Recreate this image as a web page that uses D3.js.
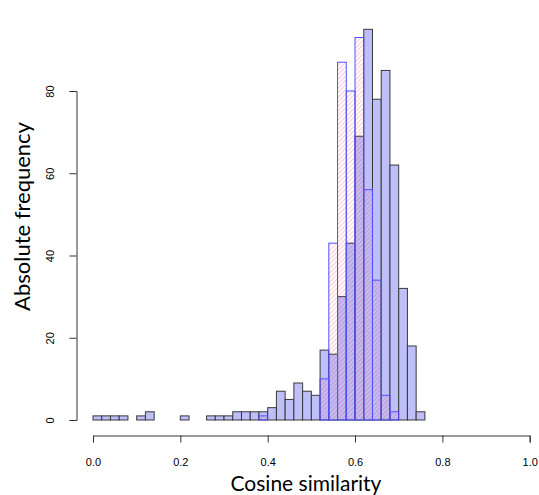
<!DOCTYPE html>
<html>
<head>
<meta charset="utf-8">
<script src="https://cdn.jsdelivr.net/npm/d3@7"></script>
<style>
  html, body { margin: 0; padding: 0; background: #fff; }
  svg { display: block; }
</style>
</head>
<body>
<svg id="chart" width="539" height="495"></svg>
<script>
// Histogram bins: width 0.02, left edges starting at 0
const binWidth = 0.02;
const allStart = 0.00;
const allCounts = [1, 1, 1, 1, 0, 1, 2, 0, 0, 0, 1, 0, 0, 1, 1, 1, 2, 2, 2, 2,
                   3, 7, 5, 9, 7, 6, 17, 16, 30, 43, 69, 95, 78, 85, 62, 32, 18, 2];
const subsetStart = 0.38;
const subsetCounts = [1, 0, 0, 0, 0, 0, 0, 10, 43, 87, 80, 93, 56, 34, 6, 2];
const xTicks = [0.0, 0.2, 0.4, 0.6, 0.8, 1.0];
const yTicks = [0, 20, 40, 60, 80];
const xTitle = "Cosine similarity";
const yTitle = "Absolute frequency";

const svg = d3.select("#chart");

const x = d3.scaleLinear().domain([0, 1]).range([93, 529.7]);
const y = d3.scaleLinear().domain([0, 80]).range([420, 91]);

// hatch pattern for the overlaid histogram
const defs = svg.append("defs");
const pat = defs.append("pattern")
  .attr("id", "hatch")
  .attr("patternUnits", "userSpaceOnUse")
  .attr("width", 3.2).attr("height", 10)
  .attr("patternTransform", "rotate(45)");
pat.append("line")
  .attr("x1", 0.5).attr("y1", 0).attr("x2", 0.5).attr("y2", 10)
  .attr("stroke", "rgba(255,0,0,0.2)").attr("stroke-width", 1.1);

function toBins(start, counts) {
  return counts.map((c, i) => {
    const x0 = +(start + i * binWidth).toFixed(4);
    return { x0, x1: +(x0 + binWidth).toFixed(4), c };
  });
}

// filled histogram
svg.append("g").selectAll("rect")
  .data(toBins(allStart, allCounts))
  .join("rect")
  .attr("x", d => x(d.x0))
  .attr("y", d => y(d.c))
  .attr("width", d => x(d.x1) - x(d.x0))
  .attr("height", d => y(0) - y(d.c))
  .attr("fill", "#bebef9")
  .attr("stroke", "#3a3a3a")
  .attr("stroke-width", 1);

// hatched histogram drawn over it
svg.append("g").selectAll("rect")
  .data(toBins(subsetStart, subsetCounts))
  .join("rect")
  .attr("x", d => x(d.x0))
  .attr("y", d => y(d.c))
  .attr("width", d => x(d.x1) - x(d.x0))
  .attr("height", d => y(0) - y(d.c))
  .attr("fill", "url(#hatch)")
  .attr("stroke", "#5050ff")
  .attr("stroke-width", 1);

// x axis below the bars
const xAxis = svg.append("g")
  .attr("transform", "translate(0,435.5)")
  .call(d3.axisBottom(x).tickValues(xTicks).tickFormat(d3.format(".1f")).tickSizeOuter(0).tickSize(7));
xAxis.select(".domain").attr("stroke", "#333");
xAxis.selectAll(".tick line").attr("stroke", "#333");
xAxis.selectAll("text")
  .attr("font-family", "Liberation Sans, Arial, sans-serif")
  .attr("font-size", 11)
  .attr("fill", "#000")
  .attr("dy", null)
  .attr("y", 30.5);

// y axis left of the bars
const yAxis = svg.append("g")
  .attr("transform", "translate(76.5,0)")
  .call(d3.axisLeft(y).tickValues(yTicks).tickSizeOuter(0).tickSize(7));
yAxis.select(".domain").attr("stroke", "#333");
yAxis.selectAll(".tick line").attr("stroke", "#333");
yAxis.selectAll("text")
  .attr("font-family", "Liberation Sans, Arial, sans-serif")
  .attr("font-size", 11)
  .attr("fill", "#000")
  .attr("x", null).attr("dy", null)
  .attr("text-anchor", "middle")
  .attr("transform", "translate(-22.5,0) rotate(-90)")
  .attr("y", 0);

// axis titles
const titleFont = "Lato, 'Open Sans', sans-serif";
svg.append("text")
  .attr("x", 306).attr("y", 491)
  .attr("text-anchor", "middle")
  .attr("font-family", titleFont)
  .attr("font-size", 21)
  .attr("fill", "#000")
  .text(xTitle);

svg.append("text")
  .attr("transform", "translate(30,216.5) rotate(-90)")
  .attr("text-anchor", "middle")
  .attr("font-family", titleFont)
  .attr("font-size", 22)
  .attr("fill", "#000")
  .text(yTitle);
</script>
</body>
</html>
